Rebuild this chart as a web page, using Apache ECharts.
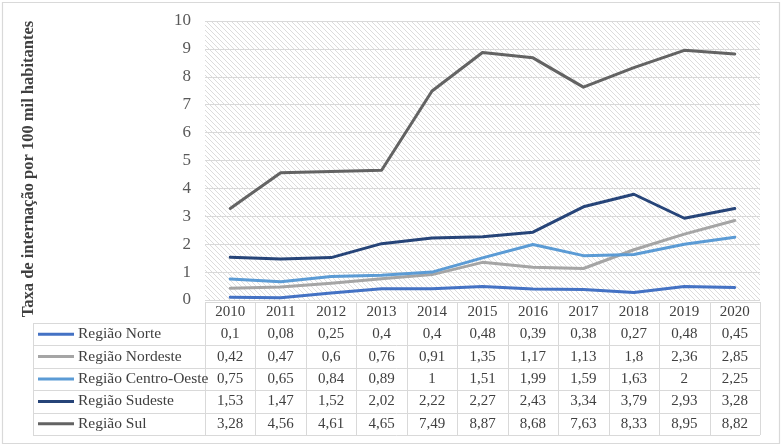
<!DOCTYPE html>
<html><head><meta charset="utf-8">
<script src="https://cdn.jsdelivr.net/npm/echarts@6/dist/echarts.min.js"></script>
<style>html,body{margin:0;padding:0;background:#fff}#c{width:784px;height:447px}</style>
</head><body><div id="c"></div>
<script>
const years = ['2010','2011','2012','2013','2014','2015','2016','2017','2018','2019','2020'];
const norte = [0.1,0.08,0.25,0.4,0.4,0.48,0.39,0.38,0.27,0.48,0.45];
const nordeste = [0.42,0.47,0.6,0.76,0.91,1.35,1.17,1.13,1.8,2.36,2.85];
const centroOeste = [0.75,0.65,0.84,0.89,1,1.51,1.99,1.59,1.63,2,2.25];
const sudeste = [1.53,1.47,1.52,2.02,2.22,2.27,2.43,3.34,3.79,2.93,3.28];
const sul = [3.28,4.56,4.61,4.65,7.49,8.87,8.68,7.63,8.33,8.95,8.82];
const seriesNames = ['Região Norte','Região Nordeste','Região Centro-Oeste','Região Sudeste','Região Sul'];
const seriesData = [norte, nordeste, centroOeste, sudeste, sul];
const seriesColors = ['#4472C4','#A5A5A5','#5B9BD5','#264478','#636363'];
const yMin = 0, yMax = 10, yStep = 1;
const yTitle = 'Taxa de internação por 100 mil habitantes';

const FONT = "'Liberation Serif','Times New Roman',serif";
const chart = echarts.init(document.getElementById('c'), null, {renderer:'canvas'});

// hatch pattern
const s = 5;
const pc = document.createElement('canvas');
pc.width = s; pc.height = s;
const ctx = pc.getContext('2d');
ctx.fillStyle = '#fff'; ctx.fillRect(0,0,s,s);
ctx.strokeStyle = '#dcdcdc'; ctx.lineWidth = 1;
for (let k=-1;k<=1;k++){ ctx.beginPath(); ctx.moveTo(k*s,0); ctx.lineTo(k*s+s,s); ctx.stroke(); }

const gridL = 205, gridR = 24, gridT = 21, gridB = 147;

chart.setOption({
  animation:false,
  grid:{left:gridL,right:gridR,top:gridT,bottom:gridB,containLabel:false},
  xAxis:{type:'category',data:years,boundaryGap:true,
    axisLine:{show:false},axisTick:{show:false},
    axisLabel:{fontFamily:FONT,fontSize:15,color:'#404040',margin:5}},
  yAxis:{type:'value',min:yMin,max:yMax,interval:yStep,
    axisLine:{show:false},axisTick:{show:false},
    splitLine:{lineStyle:{color:'#d9d9d9',width:1}},
    axisLabel:{fontFamily:FONT,fontSize:17,color:'#595959',margin:14}},
  series: seriesNames.map((n,i)=>({name:n,type:'line',data:seriesData[i],symbol:'none',
    lineStyle:{color:seriesColors[i],width:3,cap:'round',join:'round'},itemStyle:{color:seriesColors[i]},z:2}))
});

const x0 = chart.convertToPixel({xAxisIndex:0}, 0);
const x1 = chart.convertToPixel({xAxisIndex:0}, 1);
const cw = x1 - x0;
const tLeft = x0 - cw/2;
const tRight = tLeft + cw*years.length;
const legL = 33;
const headTop = 302, rowTop = 323, rowH = 22.4;
const tBottom = rowTop + rowH*seriesNames.length;
const W = 784, H = 447;
const g = [];
g.push({type:'rect',z:-1,silent:true,shape:{x:gridL,y:gridT,width:W-gridL-gridR,height:H-gridT-gridB},style:{fill:{image:pc,repeat:'repeat'}}});
g.push({type:'rect',silent:true,shape:{x:2.5,y:2.5,width:777,height:441},style:{fill:null,stroke:'#d9d9d9',lineWidth:1.2}});
const LC = '#d9d9d9';
function hline(y,xa,xb){g.push({type:'line',silent:true,shape:{x1:xa,y1:y,x2:xb,y2:y},style:{stroke:LC,lineWidth:1}});}
function vline(x,ya,yb){g.push({type:'line',silent:true,shape:{x1:x,y1:ya,x2:x,y2:yb},style:{stroke:LC,lineWidth:1}});}
hline(headTop+0.5,tLeft,tRight);
for(let r=0;r<=seriesNames.length;r++) hline(Math.round(rowTop+r*rowH)+0.5,legL,tRight);
vline(legL+0.5,rowTop,tBottom);
for(let c=0;c<=years.length;c++) vline(Math.round(tLeft+c*cw)+0.5,headTop,tBottom);
seriesNames.forEach((n,r)=>{
  const cy = rowTop + r*rowH + rowH/2;
  g.push({type:'line',silent:true,shape:{x1:38,y1:cy,x2:74,y2:cy},style:{stroke:seriesColors[r],lineWidth:3}});
  g.push({type:'text',silent:true,x:78,y:cy,style:{text:n,font:'15.5px '+FONT,fill:'#404040',textAlign:'left',textVerticalAlign:'middle'}});
  seriesData[r].forEach((v,c)=>{
    g.push({type:'text',silent:true,x:x0+c*cw,y:cy,style:{text:String(v).replace('.',','),font:'15px '+FONT,fill:'#404040',textAlign:'center',textVerticalAlign:'middle'}});
  });
});
g.push({type:'text',silent:true,x:29,y:169,rotation:Math.PI/2,style:{text:yTitle,font:'bold 16.5px '+FONT,fill:'#404040',textAlign:'center',textVerticalAlign:'middle'}});
chart.setOption({graphic:g});
</script></body></html>
